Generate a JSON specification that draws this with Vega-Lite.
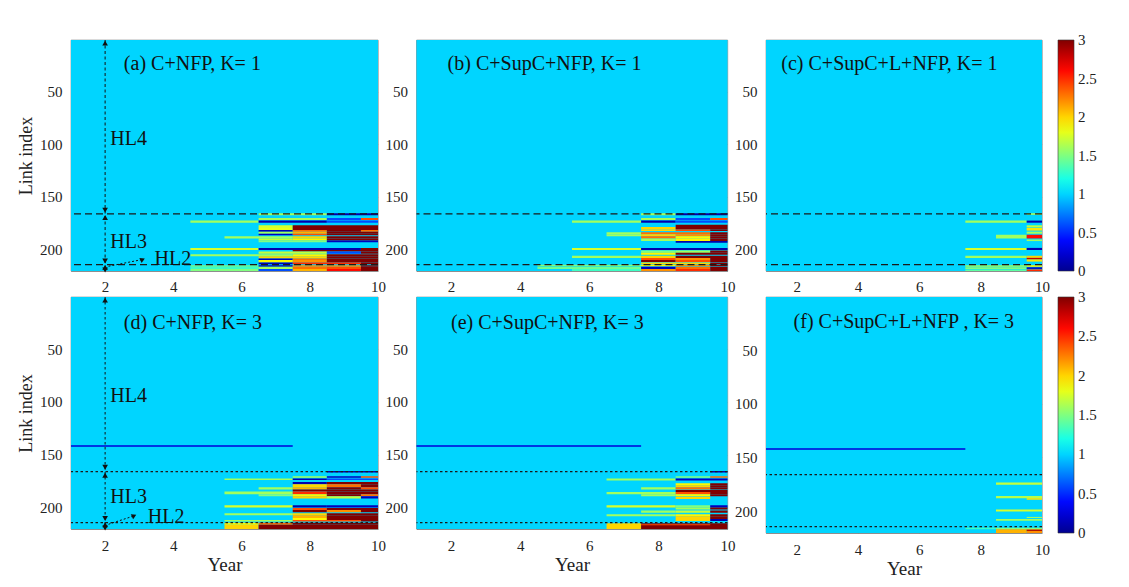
{
  "$schema": "https://vega.github.io/schema/vega-lite/v6.json",
  "padding": {"left": 17, "top": 39, "right": 5, "bottom": 5},
  "background": "#ffffff",
  "config": {
    "font": "Liberation Serif",
    "view": {"stroke": "#666666", "strokeWidth": 0.6},
    "axis": {
      "labelFont": "Liberation Serif", "labelFontSize": 15, "labelColor": "#222222",
      "titleFont": "Liberation Serif", "titleFontSize": 18, "titleFontWeight": "normal", "titleColor": "#222222",
      "ticks": false, "tickSize": 0, "domainColor": "#666666", "domainWidth": 0.6,
      "grid": true, "gridColor": "#000000", "gridOpacity": 0.07, "zindex": 1,
      "labelPadding": 9, "labelOverlap": false, "labelFlush": false
    },
    "legend": {"labelFont": "Liberation Serif", "labelFontSize": 15, "labelColor": "#222222"}
  },
  "datasets": {
    "cells": [
      {"p":"a","lo":0.5,"hi":220.5,"from":0.5,"to":10.5,"v":1},
      {"p":"a","lo":165.5,"hi":167.5,"from":6.5,"to":8.5,"v":1.6},
      {"p":"a","lo":165.5,"hi":167.5,"from":8.5,"to":10.5,"v":0.1},
      {"p":"a","lo":170,"hi":172,"from":6.5,"to":8.5,"v":1.6},
      {"p":"a","lo":170,"hi":172,"from":8.5,"to":9.5,"v":0.6},
      {"p":"a","lo":170,"hi":172,"from":9.5,"to":10.5,"v":2.4},
      {"p":"a","lo":172.5,"hi":174.5,"from":4.5,"to":6.5,"v":1.6},
      {"p":"a","lo":172.5,"hi":174.5,"from":6.5,"to":8.5,"v":0.1},
      {"p":"a","lo":172.5,"hi":174.5,"from":8.5,"to":10.5,"v":0.6},
      {"p":"a","lo":177,"hi":179.5,"from":6.5,"to":7.5,"v":1.75},
      {"p":"a","lo":177,"hi":179.5,"from":7.5,"to":10.5,"v":3},
      {"p":"a","lo":179.5,"hi":181.5,"from":6.5,"to":7.5,"v":1.8},
      {"p":"a","lo":179.5,"hi":181.5,"from":7.5,"to":10.5,"v":3},
      {"p":"a","lo":181.5,"hi":183,"from":6.5,"to":7.5,"v":0.1},
      {"p":"a","lo":181.5,"hi":183,"from":7.5,"to":8.5,"v":2.3},
      {"p":"a","lo":181.5,"hi":183,"from":8.5,"to":9.5,"v":3},
      {"p":"a","lo":181.5,"hi":183,"from":9.5,"to":10.5,"v":2.3},
      {"p":"a","lo":183,"hi":185,"from":6.5,"to":7.5,"v":1.6},
      {"p":"a","lo":183,"hi":185,"from":7.5,"to":8.5,"v":2.1},
      {"p":"a","lo":183,"hi":185,"from":8.5,"to":10.5,"v":3},
      {"p":"a","lo":185,"hi":186.5,"from":6.5,"to":7.5,"v":0.15},
      {"p":"a","lo":185,"hi":186.5,"from":7.5,"to":8.5,"v":2.4},
      {"p":"a","lo":185,"hi":186.5,"from":8.5,"to":10.5,"v":3},
      {"p":"a","lo":187.5,"hi":189.5,"from":5.5,"to":7.5,"v":1.6},
      {"p":"a","lo":187.5,"hi":189.5,"from":7.5,"to":8.5,"v":2.0},
      {"p":"a","lo":187.5,"hi":189.5,"from":8.5,"to":10.5,"v":3},
      {"p":"a","lo":189.5,"hi":191.5,"from":6.5,"to":7.5,"v":1.7},
      {"p":"a","lo":189.5,"hi":191.5,"from":7.5,"to":8.5,"v":1.9},
      {"p":"a","lo":189.5,"hi":191.5,"from":8.5,"to":10.5,"v":3},
      {"p":"a","lo":191.5,"hi":193,"from":6.5,"to":8.5,"v":1.5},
      {"p":"a","lo":191.5,"hi":193,"from":8.5,"to":10.5,"v":0.15},
      {"p":"a","lo":198.5,"hi":200.5,"from":4.5,"to":6.5,"v":1.75},
      {"p":"a","lo":198.5,"hi":200.5,"from":6.5,"to":9.5,"v":0.1},
      {"p":"a","lo":198.5,"hi":200.5,"from":9.5,"to":10.5,"v":3},
      {"p":"a","lo":200.5,"hi":202,"from":7.5,"to":10.5,"v":3},
      {"p":"a","lo":202,"hi":204,"from":6.5,"to":8.5,"v":1.7},
      {"p":"a","lo":202,"hi":204,"from":8.5,"to":9.5,"v":0.6},
      {"p":"a","lo":202,"hi":204,"from":9.5,"to":10.5,"v":3},
      {"p":"a","lo":204.5,"hi":206.5,"from":4.5,"to":7.5,"v":1.6},
      {"p":"a","lo":204.5,"hi":206.5,"from":7.5,"to":8.5,"v":1.9},
      {"p":"a","lo":204.5,"hi":206.5,"from":8.5,"to":10.5,"v":3},
      {"p":"a","lo":206.5,"hi":208.5,"from":6.5,"to":8.5,"v":2.0},
      {"p":"a","lo":206.5,"hi":208.5,"from":8.5,"to":10.5,"v":3},
      {"p":"a","lo":208.5,"hi":210,"from":6.5,"to":7.5,"v":0.15},
      {"p":"a","lo":208.5,"hi":210,"from":7.5,"to":8.5,"v":2.3},
      {"p":"a","lo":208.5,"hi":210,"from":8.5,"to":10.5,"v":3},
      {"p":"a","lo":210,"hi":212.5,"from":6.5,"to":7.5,"v":1.9},
      {"p":"a","lo":210,"hi":212.5,"from":7.5,"to":8.5,"v":2.2},
      {"p":"a","lo":210,"hi":212.5,"from":8.5,"to":10.5,"v":3},
      {"p":"a","lo":212.5,"hi":214,"from":6.5,"to":7.5,"v":0.15},
      {"p":"a","lo":212.5,"hi":214,"from":7.5,"to":9.5,"v":2.5},
      {"p":"a","lo":212.5,"hi":214,"from":9.5,"to":10.5,"v":3},
      {"p":"a","lo":215,"hi":216.5,"from":4.5,"to":6.5,"v":1.5},
      {"p":"a","lo":215,"hi":216.5,"from":6.5,"to":7.5,"v":0.15},
      {"p":"a","lo":215,"hi":216.5,"from":7.5,"to":9.5,"v":2.2},
      {"p":"a","lo":215,"hi":216.5,"from":9.5,"to":10.5,"v":3},
      {"p":"a","lo":216.5,"hi":218.5,"from":4.5,"to":6.5,"v":1.3},
      {"p":"a","lo":216.5,"hi":218.5,"from":6.5,"to":7.5,"v":1.6},
      {"p":"a","lo":216.5,"hi":218.5,"from":7.5,"to":8.5,"v":2.3},
      {"p":"a","lo":216.5,"hi":218.5,"from":8.5,"to":9.5,"v":2.4},
      {"p":"a","lo":216.5,"hi":218.5,"from":9.5,"to":10.5,"v":3},
      {"p":"a","lo":218.5,"hi":220.5,"from":4.5,"to":6.5,"v":1.5},
      {"p":"a","lo":218.5,"hi":220.5,"from":6.5,"to":7.5,"v":0.6},
      {"p":"a","lo":218.5,"hi":220.5,"from":7.5,"to":8.5,"v":2.1},
      {"p":"a","lo":218.5,"hi":220.5,"from":8.5,"to":9.5,"v":2.6},
      {"p":"a","lo":218.5,"hi":220.5,"from":9.5,"to":10.5,"v":3},

      {"p":"b","lo":0.5,"hi":220.5,"from":0.5,"to":10.5,"v":1},
      {"p":"b","lo":165.5,"hi":167.5,"from":7.5,"to":8.5,"v":1.6},
      {"p":"b","lo":165.5,"hi":167.5,"from":8.5,"to":10.5,"v":0.1},
      {"p":"b","lo":170,"hi":172,"from":7.5,"to":8.5,"v":1.6},
      {"p":"b","lo":170,"hi":172,"from":8.5,"to":9.5,"v":0.6},
      {"p":"b","lo":170,"hi":172,"from":9.5,"to":10.5,"v":2.4},
      {"p":"b","lo":172.5,"hi":174.5,"from":5.5,"to":7.5,"v":1.6},
      {"p":"b","lo":172.5,"hi":174.5,"from":7.5,"to":8.5,"v":0.1},
      {"p":"b","lo":172.5,"hi":174.5,"from":8.5,"to":10.5,"v":0.6},
      {"p":"b","lo":176.5,"hi":178.5,"from":8.5,"to":10.5,"v":3},
      {"p":"b","lo":178.5,"hi":181,"from":7.5,"to":8.5,"v":2.0},
      {"p":"b","lo":178.5,"hi":181,"from":8.5,"to":10.5,"v":3},
      {"p":"b","lo":181,"hi":182.5,"from":7.5,"to":8.5,"v":2.0},
      {"p":"b","lo":181,"hi":182.5,"from":8.5,"to":9.5,"v":2.4},
      {"p":"b","lo":181,"hi":182.5,"from":9.5,"to":10.5,"v":3},
      {"p":"b","lo":183.5,"hi":185.5,"from":6.5,"to":7.5,"v":1.6},
      {"p":"b","lo":183.5,"hi":185.5,"from":7.5,"to":9.5,"v":2.3},
      {"p":"b","lo":183.5,"hi":185.5,"from":9.5,"to":10.5,"v":3},
      {"p":"b","lo":185.5,"hi":187.5,"from":6.5,"to":7.5,"v":1.6},
      {"p":"b","lo":185.5,"hi":187.5,"from":7.5,"to":8.5,"v":2.0},
      {"p":"b","lo":185.5,"hi":187.5,"from":8.5,"to":9.5,"v":2.2},
      {"p":"b","lo":185.5,"hi":187.5,"from":9.5,"to":10.5,"v":3},
      {"p":"b","lo":187.5,"hi":189.5,"from":7.5,"to":8.5,"v":2.3},
      {"p":"b","lo":187.5,"hi":189.5,"from":8.5,"to":9.5,"v":1.9},
      {"p":"b","lo":187.5,"hi":189.5,"from":9.5,"to":10.5,"v":3},
      {"p":"b","lo":189.5,"hi":192,"from":7.5,"to":8.5,"v":1.6},
      {"p":"b","lo":189.5,"hi":192,"from":8.5,"to":9.5,"v":1.9},
      {"p":"b","lo":189.5,"hi":192,"from":9.5,"to":10.5,"v":3},
      {"p":"b","lo":192,"hi":193.5,"from":8.5,"to":10.5,"v":0.1},
      {"p":"b","lo":198.5,"hi":200.5,"from":5.5,"to":7.5,"v":1.75},
      {"p":"b","lo":198.5,"hi":200.5,"from":7.5,"to":10.5,"v":0.1},
      {"p":"b","lo":201,"hi":203,"from":7.5,"to":8.5,"v":1.5},
      {"p":"b","lo":201,"hi":203,"from":8.5,"to":9.5,"v":1.6},
      {"p":"b","lo":201,"hi":203,"from":9.5,"to":10.5,"v":3},
      {"p":"b","lo":203,"hi":205,"from":7.5,"to":8.5,"v":1.9},
      {"p":"b","lo":203,"hi":205,"from":8.5,"to":10.5,"v":3},
      {"p":"b","lo":206,"hi":208,"from":5.5,"to":7.5,"v":1.6},
      {"p":"b","lo":206,"hi":208,"from":7.5,"to":8.5,"v":2.0},
      {"p":"b","lo":206,"hi":208,"from":8.5,"to":10.5,"v":3},
      {"p":"b","lo":208,"hi":210,"from":7.5,"to":8.5,"v":2.4},
      {"p":"b","lo":208,"hi":210,"from":8.5,"to":9.5,"v":2.2},
      {"p":"b","lo":208,"hi":210,"from":9.5,"to":10.5,"v":3},
      {"p":"b","lo":210,"hi":212,"from":7.5,"to":8.5,"v":3},
      {"p":"b","lo":210,"hi":212,"from":8.5,"to":9.5,"v":2.4},
      {"p":"b","lo":210,"hi":212,"from":9.5,"to":10.5,"v":3},
      {"p":"b","lo":212.5,"hi":214,"from":7.5,"to":9.5,"v":2.0},
      {"p":"b","lo":212.5,"hi":214,"from":9.5,"to":10.5,"v":3},
      {"p":"b","lo":214.5,"hi":216,"from":4.5,"to":7.5,"v":1.5},
      {"p":"b","lo":214.5,"hi":216,"from":7.5,"to":8.5,"v":1.9},
      {"p":"b","lo":214.5,"hi":216,"from":8.5,"to":9.5,"v":2.2},
      {"p":"b","lo":214.5,"hi":216,"from":9.5,"to":10.5,"v":3},
      {"p":"b","lo":216.5,"hi":218.5,"from":4.5,"to":7.5,"v":1.45},
      {"p":"b","lo":216.5,"hi":218.5,"from":7.5,"to":8.5,"v":0.15},
      {"p":"b","lo":216.5,"hi":218.5,"from":8.5,"to":9.5,"v":2.3},
      {"p":"b","lo":216.5,"hi":218.5,"from":9.5,"to":10.5,"v":3},
      {"p":"b","lo":218.5,"hi":220.5,"from":5.5,"to":7.5,"v":1.3},
      {"p":"b","lo":218.5,"hi":220.5,"from":7.5,"to":8.5,"v":2.2},
      {"p":"b","lo":218.5,"hi":220.5,"from":8.5,"to":9.5,"v":2.5},
      {"p":"b","lo":218.5,"hi":220.5,"from":9.5,"to":10.5,"v":3},

      {"p":"c","lo":0.5,"hi":220.5,"from":0.5,"to":10.5,"v":1},
      {"p":"c","lo":165.5,"hi":167,"from":9.5,"to":10.5,"v":1.6},
      {"p":"c","lo":172.5,"hi":174.5,"from":7.5,"to":9.5,"v":1.6},
      {"p":"c","lo":172.5,"hi":174.5,"from":9.5,"to":10.5,"v":0.1},
      {"p":"c","lo":177,"hi":179,"from":9.5,"to":10.5,"v":1.7},
      {"p":"c","lo":179.5,"hi":182,"from":9.5,"to":10.5,"v":1.95},
      {"p":"c","lo":183,"hi":185,"from":9.5,"to":10.5,"v":1.6},
      {"p":"c","lo":186,"hi":189.5,"from":8.5,"to":9.5,"v":1.6},
      {"p":"c","lo":186,"hi":189.5,"from":9.5,"to":10.5,"v":2.6},
      {"p":"c","lo":190.5,"hi":192,"from":9.5,"to":10.5,"v":1.6},
      {"p":"c","lo":198.5,"hi":200.5,"from":7.5,"to":9.5,"v":1.75},
      {"p":"c","lo":198.5,"hi":200.5,"from":9.5,"to":10.5,"v":0.1},
      {"p":"c","lo":206,"hi":208,"from":7.5,"to":9.5,"v":1.6},
      {"p":"c","lo":206,"hi":208,"from":9.5,"to":10.5,"v":2.0},
      {"p":"c","lo":208,"hi":209.5,"from":9.5,"to":10.5,"v":2.8},
      {"p":"c","lo":209.5,"hi":211.5,"from":9.5,"to":10.5,"v":1.95},
      {"p":"c","lo":215,"hi":216.5,"from":7.5,"to":9.5,"v":1.6},
      {"p":"c","lo":215,"hi":216.5,"from":9.5,"to":10.5,"v":1.9},
      {"p":"c","lo":217,"hi":218.5,"from":7.5,"to":9.5,"v":1.5},
      {"p":"c","lo":217,"hi":218.5,"from":9.5,"to":10.5,"v":0.15},
      {"p":"c","lo":219,"hi":220.5,"from":7.5,"to":9.5,"v":1.4},
      {"p":"c","lo":219,"hi":220.5,"from":9.5,"to":10.5,"v":2.5},

      {"p":"d","lo":0.5,"hi":220.5,"from":0.5,"to":10.5,"v":1},
      {"p":"d","lo":141,"hi":142.5,"from":0.5,"to":7.5,"v":0.25},
      {"p":"d","lo":165.5,"hi":167,"from":8.5,"to":10.5,"v":0.1},
      {"p":"d","lo":170.5,"hi":172,"from":7.5,"to":8.5,"v":1.6},
      {"p":"d","lo":170.5,"hi":172,"from":8.5,"to":9.5,"v":0.15},
      {"p":"d","lo":170.5,"hi":172,"from":9.5,"to":10.5,"v":2.4},
      {"p":"d","lo":172.5,"hi":174,"from":5.5,"to":7.5,"v":1.6},
      {"p":"d","lo":172.5,"hi":174,"from":7.5,"to":8.5,"v":0.1},
      {"p":"d","lo":172.5,"hi":174,"from":8.5,"to":10.5,"v":0.6},
      {"p":"d","lo":176,"hi":178,"from":7.5,"to":8.5,"v":0.1},
      {"p":"d","lo":176,"hi":178,"from":8.5,"to":10.5,"v":3},
      {"p":"d","lo":178,"hi":181,"from":7.5,"to":8.5,"v":2.0},
      {"p":"d","lo":178,"hi":181,"from":8.5,"to":9.5,"v":2.3},
      {"p":"d","lo":178,"hi":181,"from":9.5,"to":10.5,"v":3},
      {"p":"d","lo":181,"hi":183,"from":6.5,"to":7.5,"v":1.6},
      {"p":"d","lo":181,"hi":183,"from":7.5,"to":8.5,"v":2.1},
      {"p":"d","lo":181,"hi":183,"from":8.5,"to":9.5,"v":3},
      {"p":"d","lo":181,"hi":183,"from":9.5,"to":10.5,"v":2.4},
      {"p":"d","lo":183,"hi":185,"from":7.5,"to":10.5,"v":3},
      {"p":"d","lo":185,"hi":187.5,"from":5.5,"to":7.5,"v":1.6},
      {"p":"d","lo":185,"hi":187.5,"from":7.5,"to":8.5,"v":2.5},
      {"p":"d","lo":185,"hi":187.5,"from":8.5,"to":10.5,"v":3},
      {"p":"d","lo":187.5,"hi":189.5,"from":6.5,"to":7.5,"v":1.5},
      {"p":"d","lo":187.5,"hi":189.5,"from":7.5,"to":8.5,"v":1.9},
      {"p":"d","lo":187.5,"hi":189.5,"from":8.5,"to":9.5,"v":3},
      {"p":"d","lo":187.5,"hi":189.5,"from":9.5,"to":10.5,"v":2.3},
      {"p":"d","lo":189.5,"hi":191.5,"from":7.5,"to":8.5,"v":2.0},
      {"p":"d","lo":189.5,"hi":191.5,"from":8.5,"to":9.5,"v":1.7},
      {"p":"d","lo":189.5,"hi":191.5,"from":9.5,"to":10.5,"v":0.15},
      {"p":"d","lo":198,"hi":200,"from":5.5,"to":7.5,"v":1.75},
      {"p":"d","lo":198,"hi":200,"from":7.5,"to":8.5,"v":0.1},
      {"p":"d","lo":198,"hi":200,"from":8.5,"to":10.5,"v":0.15},
      {"p":"d","lo":200.5,"hi":202.5,"from":7.5,"to":8.5,"v":2.4},
      {"p":"d","lo":200.5,"hi":202.5,"from":8.5,"to":10.5,"v":3},
      {"p":"d","lo":202.5,"hi":204.5,"from":7.5,"to":8.5,"v":3},
      {"p":"d","lo":202.5,"hi":204.5,"from":8.5,"to":9.5,"v":2.2},
      {"p":"d","lo":202.5,"hi":204.5,"from":9.5,"to":10.5,"v":3},
      {"p":"d","lo":205.5,"hi":207.5,"from":5.5,"to":7.5,"v":1.6},
      {"p":"d","lo":205.5,"hi":207.5,"from":7.5,"to":8.5,"v":2.0},
      {"p":"d","lo":205.5,"hi":207.5,"from":8.5,"to":10.5,"v":3},
      {"p":"d","lo":207.5,"hi":210,"from":7.5,"to":8.5,"v":2.1},
      {"p":"d","lo":207.5,"hi":210,"from":8.5,"to":10.5,"v":3},
      {"p":"d","lo":210,"hi":212,"from":7.5,"to":8.5,"v":1.9},
      {"p":"d","lo":210,"hi":212,"from":8.5,"to":10.5,"v":3},
      {"p":"d","lo":212,"hi":213.5,"from":5.5,"to":7.5,"v":1.6},
      {"p":"d","lo":212,"hi":213.5,"from":7.5,"to":9.5,"v":2.4},
      {"p":"d","lo":212,"hi":213.5,"from":9.5,"to":10.5,"v":3},
      {"p":"d","lo":214.5,"hi":216.5,"from":5.5,"to":6.5,"v":1.9},
      {"p":"d","lo":214.5,"hi":216.5,"from":6.5,"to":7.5,"v":2.3},
      {"p":"d","lo":214.5,"hi":216.5,"from":7.5,"to":10.5,"v":3},
      {"p":"d","lo":216.5,"hi":220.5,"from":5.5,"to":6.5,"v":2.0},
      {"p":"d","lo":216.5,"hi":220.5,"from":6.5,"to":10.5,"v":3},

      {"p":"e","lo":0.5,"hi":220.5,"from":0.5,"to":10.5,"v":1},
      {"p":"e","lo":141,"hi":142.5,"from":0.5,"to":7.5,"v":0.25},
      {"p":"e","lo":165.5,"hi":167,"from":9.5,"to":10.5,"v":0.1},
      {"p":"e","lo":170.5,"hi":172,"from":8.5,"to":9.5,"v":1.5},
      {"p":"e","lo":170.5,"hi":172,"from":9.5,"to":10.5,"v":2.3},
      {"p":"e","lo":172.5,"hi":174.5,"from":6.5,"to":8.5,"v":1.6},
      {"p":"e","lo":172.5,"hi":174.5,"from":8.5,"to":10.5,"v":0.15},
      {"p":"e","lo":177,"hi":179,"from":8.5,"to":9.5,"v":1.9},
      {"p":"e","lo":177,"hi":179,"from":9.5,"to":10.5,"v":3},
      {"p":"e","lo":179,"hi":181,"from":8.5,"to":9.5,"v":2.0},
      {"p":"e","lo":179,"hi":181,"from":9.5,"to":10.5,"v":3},
      {"p":"e","lo":181,"hi":183,"from":7.5,"to":8.5,"v":1.6},
      {"p":"e","lo":181,"hi":183,"from":8.5,"to":9.5,"v":2.3},
      {"p":"e","lo":181,"hi":183,"from":9.5,"to":10.5,"v":3},
      {"p":"e","lo":183.5,"hi":185.5,"from":8.5,"to":10.5,"v":3},
      {"p":"e","lo":185.5,"hi":187.5,"from":6.5,"to":8.5,"v":1.6},
      {"p":"e","lo":185.5,"hi":187.5,"from":8.5,"to":9.5,"v":2.4},
      {"p":"e","lo":185.5,"hi":187.5,"from":9.5,"to":10.5,"v":3},
      {"p":"e","lo":187.5,"hi":189.5,"from":7.5,"to":8.5,"v":1.6},
      {"p":"e","lo":187.5,"hi":189.5,"from":8.5,"to":9.5,"v":1.9},
      {"p":"e","lo":187.5,"hi":189.5,"from":9.5,"to":10.5,"v":3},
      {"p":"e","lo":190,"hi":192,"from":8.5,"to":9.5,"v":2.0},
      {"p":"e","lo":198,"hi":200,"from":6.5,"to":8.5,"v":1.75},
      {"p":"e","lo":198,"hi":200,"from":8.5,"to":9.5,"v":1.5},
      {"p":"e","lo":198,"hi":200,"from":9.5,"to":10.5,"v":0.15},
      {"p":"e","lo":200,"hi":202,"from":8.5,"to":9.5,"v":1.6},
      {"p":"e","lo":200,"hi":202,"from":9.5,"to":10.5,"v":3},
      {"p":"e","lo":203,"hi":205,"from":7.5,"to":8.5,"v":1.6},
      {"p":"e","lo":203,"hi":205,"from":8.5,"to":9.5,"v":1.7},
      {"p":"e","lo":203,"hi":205,"from":9.5,"to":10.5,"v":3},
      {"p":"e","lo":206.5,"hi":208.5,"from":6.5,"to":8.5,"v":1.6},
      {"p":"e","lo":206.5,"hi":208.5,"from":8.5,"to":9.5,"v":1.9},
      {"p":"e","lo":206.5,"hi":208.5,"from":9.5,"to":10.5,"v":3},
      {"p":"e","lo":208.5,"hi":211,"from":8.5,"to":9.5,"v":2.0},
      {"p":"e","lo":208.5,"hi":211,"from":9.5,"to":10.5,"v":3},
      {"p":"e","lo":211,"hi":213,"from":8.5,"to":9.5,"v":2.0},
      {"p":"e","lo":211,"hi":213,"from":9.5,"to":10.5,"v":0.1},
      {"p":"e","lo":215,"hi":220.5,"from":6.5,"to":7.5,"v":2.0},
      {"p":"e","lo":215,"hi":220.5,"from":7.5,"to":10.5,"v":3},
      {"p":"e","lo":216,"hi":217,"from":7.5,"to":9.5,"v":2.4},

      {"p":"f","lo":0.5,"hi":220.5,"from":0.5,"to":10.5,"v":1},
      {"p":"f","lo":141.5,"hi":143,"from":0.5,"to":7.5,"v":0.25},
      {"p":"f","lo":173.5,"hi":175.5,"from":8.5,"to":10.5,"v":1.7},
      {"p":"f","lo":186,"hi":188,"from":8.5,"to":10.5,"v":1.65},
      {"p":"f","lo":188,"hi":189.5,"from":9.5,"to":10.5,"v":1.95},
      {"p":"f","lo":198.5,"hi":200.5,"from":8.5,"to":10.5,"v":1.75},
      {"p":"f","lo":205.5,"hi":206.5,"from":9.5,"to":10.5,"v":1.6},
      {"p":"f","lo":207.5,"hi":209,"from":8.5,"to":10.5,"v":1.6},
      {"p":"f","lo":215.5,"hi":217,"from":7.5,"to":8.5,"v":1.3},
      {"p":"f","lo":215.5,"hi":217,"from":8.5,"to":10.5,"v":1.5},
      {"p":"f","lo":217,"hi":220.5,"from":8.5,"to":9.5,"v":2.1},
      {"p":"f","lo":217,"hi":220.5,"from":9.5,"to":10.5,"v":2.2},
      {"p":"f","lo":217.5,"hi":218.5,"from":9.5,"to":10.5,"v":2.9}
    ],
    "hl": [
      {"p":"a","link":166},{"p":"a","link":214.5},
      {"p":"b","link":166},{"p":"b","link":214.5},
      {"p":"c","link":166},{"p":"c","link":214.5},
      {"p":"d","link":166},{"p":"d","link":214.5},
      {"p":"e","link":166},{"p":"e","link":214.5},
      {"p":"f","link":166},{"p":"f","link":214.5}
    ],
    "vl": [
      {"p":"a","year":2,"lo":0.5,"hi":220.5},
      {"p":"d","year":2,"lo":0.5,"hi":220.5}
    ],
    "arrows": [
      {"p":"a","year":2,"link":3.5,"dir":"up"},
      {"p":"a","year":2,"link":162.5,"dir":"down"},
      {"p":"a","year":2,"link":169.5,"dir":"up"},
      {"p":"a","year":2,"link":211,"dir":"down"},
      {"p":"a","year":2,"link":217,"dir":"up"},
      {"p":"a","year":2,"link":219.5,"dir":"down"},
      {"p":"d","year":2,"link":3.5,"dir":"up"},
      {"p":"d","year":2,"link":162,"dir":"down"},
      {"p":"d","year":2,"link":169.5,"dir":"up"},
      {"p":"d","year":2,"link":210.5,"dir":"down"},
      {"p":"d","year":2,"link":216.5,"dir":"up"},
      {"p":"d","year":2,"link":219.5,"dir":"down"}
    ],
    "ptr": [
      {"p":"a","year":2.1,"link":216,"year2":3.1,"link2":209.5},
      {"p":"d","year":2.1,"link":216,"year2":2.85,"link2":208}
    ],
    "hltext": [
      {"p":"a","year":2.15,"link":95,"label":"HL4"},
      {"p":"a","year":2.15,"link":192.5,"label":"HL3"},
      {"p":"a","year":3.45,"link":209,"label":"HL2"},
      {"p":"d","year":2.15,"link":94,"label":"HL4"},
      {"p":"d","year":2.15,"link":190,"label":"HL3"},
      {"p":"d","year":3.25,"link":209.5,"label":"HL2"}
    ],
    "titles": [
      {"p":"a","year":2.55,"link":23,"label":"(a) C+NFP, K= 1"},
      {"p":"b","year":1.9,"link":23,"label":"(b) C+SupC+NFP, K= 1"},
      {"p":"c","year":1.5,"link":23,"label":"(c) C+SupC+L+NFP, K= 1"},
      {"p":"d","year":2.55,"link":25,"label":"(d) C+NFP, K= 3"},
      {"p":"e","year":2.0,"link":25,"label":"(e) C+SupC+NFP, K= 3"},
      {"p":"f","year":1.9,"link":24,"label":"(f) C+SupC+L+NFP , K= 3"}
    ]
  },
  "columns": 3,
  "bounds": "flush",
  "align": "none",
  "spacing": {"row": 26, "column": 38.5},
  "resolve": {"scale": {"color": "independent"}},
  "concat": [
    {
      "width": 307, "height": 231,
      "layer": [
        {"data": {"name": "cells"}, "transform": [{"filter": "datum.p === 'a'"}],
         "mark": {"type": "rect", "clip": true},
         "encoding": {
           "x": {"field": "from", "type": "quantitative", "scale": {"domain": [1, 10], "nice": false, "zero": false}, "axis": {"values": [2,4,6,8,10], "title": null, "labelPadding": 8}},
           "x2": {"field": "to"},
           "y": {"field": "lo", "type": "quantitative", "scale": {"domain": [0.5, 220.5], "reverse": true, "nice": false, "zero": false}, "axis": {"values": [50,100,150,200], "title": "Link index", "titlePadding": 4}},
           "y2": {"field": "hi"},
           "color": {"field": "v", "type": "quantitative", "scale": {"domain": [0, 0.375, 1.125, 1.875, 2.625, 3], "range": ["#00008f","#0000ff","#00ffff","#ffff00","#ff0000","#800000"], "interpolate": "rgb"}, "legend": null}
         }},
        {"data": {"name": "hl"}, "transform": [{"filter": "datum.p === 'a'"}],
         "mark": {"type": "rule", "strokeDash": [7, 4], "color": "#1a1a1a", "strokeWidth": 1.3},
         "encoding": {"y": {"field": "link", "type": "quantitative"}}},
        {"data": {"name": "vl"}, "transform": [{"filter": "datum.p === 'a'"}],
         "mark": {"type": "rule", "strokeDash": [3, 2.5], "color": "#111111", "strokeWidth": 1},
         "encoding": {"x": {"field": "year", "type": "quantitative"}, "y": {"field": "lo", "type": "quantitative"}, "y2": {"field": "hi"}}},
        {"data": {"name": "arrows"}, "transform": [{"filter": "datum.p === 'a'"}],
         "mark": {"type": "point", "filled": true, "color": "#111111", "size": 32, "opacity": 1},
         "encoding": {"x": {"field": "year", "type": "quantitative"}, "y": {"field": "link", "type": "quantitative"},
           "shape": {"field": "dir", "type": "nominal", "scale": {"domain": ["up", "down"], "range": ["triangle-up", "triangle-down"]}, "legend": null}}},
        {"data": {"name": "ptr"}, "transform": [{"filter": "datum.p === 'a'"}],
         "mark": {"type": "rule", "strokeDash": [2, 2], "color": "#111111", "strokeWidth": 1},
         "encoding": {"x": {"field": "year", "type": "quantitative"}, "y": {"field": "link", "type": "quantitative"}, "x2": {"field": "year2"}, "y2": {"field": "link2"}}},
        {"data": {"name": "ptr"}, "transform": [{"filter": "datum.p === 'a'"}],
         "mark": {"type": "point", "shape": "triangle-right", "angle": -25, "filled": true, "color": "#111111", "size": 30, "opacity": 1},
         "encoding": {"x": {"field": "year2", "type": "quantitative"}, "y": {"field": "link2", "type": "quantitative"}}},
        {"data": {"name": "hltext"}, "transform": [{"filter": "datum.p === 'a'"}],
         "mark": {"type": "text", "align": "left", "baseline": "middle", "fontSize": 20, "color": "#111111"},
         "encoding": {"x": {"field": "year", "type": "quantitative"}, "y": {"field": "link", "type": "quantitative"}, "text": {"field": "label"}}},
        {"data": {"name": "titles"}, "transform": [{"filter": "datum.p === 'a'"}],
         "mark": {"type": "text", "align": "left", "baseline": "middle", "fontSize": 20, "color": "#111111"},
         "encoding": {"x": {"field": "year", "type": "quantitative"}, "y": {"field": "link", "type": "quantitative"}, "text": {"field": "label"}}}
      ]
    },
    {
      "width": 311, "height": 231,
      "layer": [
        {"data": {"name": "cells"}, "transform": [{"filter": "datum.p === 'b'"}],
         "mark": {"type": "rect", "clip": true},
         "encoding": {
           "x": {"field": "from", "type": "quantitative", "scale": {"domain": [1, 10], "nice": false, "zero": false}, "axis": {"values": [2,4,6,8,10], "title": null, "labelPadding": 8}},
           "x2": {"field": "to"},
           "y": {"field": "lo", "type": "quantitative", "scale": {"domain": [0.5, 220.5], "reverse": true, "nice": false, "zero": false}, "axis": {"values": [50,100,150,200], "title": null}},
           "y2": {"field": "hi"},
           "color": {"field": "v", "type": "quantitative", "scale": {"domain": [0, 0.375, 1.125, 1.875, 2.625, 3], "range": ["#00008f","#0000ff","#00ffff","#ffff00","#ff0000","#800000"], "interpolate": "rgb"}, "legend": null}
         }},
        {"data": {"name": "hl"}, "transform": [{"filter": "datum.p === 'b'"}],
         "mark": {"type": "rule", "strokeDash": [7, 4], "color": "#1a1a1a", "strokeWidth": 1.3},
         "encoding": {"y": {"field": "link", "type": "quantitative"}}},
        {"data": {"name": "titles"}, "transform": [{"filter": "datum.p === 'b'"}],
         "mark": {"type": "text", "align": "left", "baseline": "middle", "fontSize": 20, "color": "#111111"},
         "encoding": {"x": {"field": "year", "type": "quantitative"}, "y": {"field": "link", "type": "quantitative"}, "text": {"field": "label"}}}
      ]
    },
    {
      "width": 276, "height": 231,
      "layer": [
        {"data": {"name": "cells"}, "transform": [{"filter": "datum.p === 'c'"}],
         "mark": {"type": "rect", "clip": true},
         "encoding": {
           "x": {"field": "from", "type": "quantitative", "scale": {"domain": [1, 10], "nice": false, "zero": false}, "axis": {"values": [2,4,6,8,10], "title": null, "labelPadding": 8}},
           "x2": {"field": "to"},
           "y": {"field": "lo", "type": "quantitative", "scale": {"domain": [0.5, 220.5], "reverse": true, "nice": false, "zero": false}, "axis": {"values": [50,100,150,200], "title": null}},
           "y2": {"field": "hi"},
           "color": {"field": "v", "type": "quantitative", "scale": {"domain": [0, 0.375, 1.125, 1.875, 2.625, 3], "range": ["#00008f","#0000ff","#00ffff","#ffff00","#ff0000","#800000"], "interpolate": "rgb"},
             "legend": {"orient": "right", "offset": 16, "padding": 0, "title": null, "gradientLength": 231, "gradientThickness": 16, "values": [0, 0.5, 1, 1.5, 2, 2.5, 3], "labelExpr": "'' + datum.value", "labelOffset": 4, "labelOverlap": false, "gradientStrokeColor": "#333333", "gradientStrokeWidth": 0.6,
               "encode": {"labels": {"update": {"baseline": {"value": "middle"}}}}}}
         }},
        {"data": {"name": "hl"}, "transform": [{"filter": "datum.p === 'c'"}],
         "mark": {"type": "rule", "strokeDash": [7, 4], "color": "#1a1a1a", "strokeWidth": 1.3},
         "encoding": {"y": {"field": "link", "type": "quantitative"}}},
        {"data": {"name": "titles"}, "transform": [{"filter": "datum.p === 'c'"}],
         "mark": {"type": "text", "align": "left", "baseline": "middle", "fontSize": 20, "color": "#111111"},
         "encoding": {"x": {"field": "year", "type": "quantitative"}, "y": {"field": "link", "type": "quantitative"}, "text": {"field": "label"}}}
      ]
    },
    {
      "width": 307, "height": 232,
      "layer": [
        {"data": {"name": "cells"}, "transform": [{"filter": "datum.p === 'd'"}],
         "mark": {"type": "rect", "clip": true},
         "encoding": {
           "x": {"field": "from", "type": "quantitative", "scale": {"domain": [1, 10], "nice": false, "zero": false}, "axis": {"values": [2,4,6,8,10], "title": "Year", "titleFontSize": 19, "titlePadding": 2}},
           "x2": {"field": "to"},
           "y": {"field": "lo", "type": "quantitative", "scale": {"domain": [0.5, 220.5], "reverse": true, "nice": false, "zero": false}, "axis": {"values": [50,100,150,200], "title": "Link index", "titlePadding": 4}},
           "y2": {"field": "hi"},
           "color": {"field": "v", "type": "quantitative", "scale": {"domain": [0, 0.375, 1.125, 1.875, 2.625, 3], "range": ["#00008f","#0000ff","#00ffff","#ffff00","#ff0000","#800000"], "interpolate": "rgb"}, "legend": null}
         }},
        {"data": {"name": "hl"}, "transform": [{"filter": "datum.p === 'd'"}],
         "mark": {"type": "rule", "strokeDash": [2.5, 2.5], "color": "#1a1a1a", "strokeWidth": 1.2},
         "encoding": {"y": {"field": "link", "type": "quantitative"}}},
        {"data": {"name": "vl"}, "transform": [{"filter": "datum.p === 'd'"}],
         "mark": {"type": "rule", "strokeDash": [2.5, 2.5], "color": "#111111", "strokeWidth": 1},
         "encoding": {"x": {"field": "year", "type": "quantitative"}, "y": {"field": "lo", "type": "quantitative"}, "y2": {"field": "hi"}}},
        {"data": {"name": "arrows"}, "transform": [{"filter": "datum.p === 'd'"}],
         "mark": {"type": "point", "filled": true, "color": "#111111", "size": 32, "opacity": 1},
         "encoding": {"x": {"field": "year", "type": "quantitative"}, "y": {"field": "link", "type": "quantitative"},
           "shape": {"field": "dir", "type": "nominal", "scale": {"domain": ["up", "down"], "range": ["triangle-up", "triangle-down"]}, "legend": null}}},
        {"data": {"name": "ptr"}, "transform": [{"filter": "datum.p === 'd'"}],
         "mark": {"type": "rule", "strokeDash": [2, 2], "color": "#111111", "strokeWidth": 1},
         "encoding": {"x": {"field": "year", "type": "quantitative"}, "y": {"field": "link", "type": "quantitative"}, "x2": {"field": "year2"}, "y2": {"field": "link2"}}},
        {"data": {"name": "ptr"}, "transform": [{"filter": "datum.p === 'd'"}],
         "mark": {"type": "point", "shape": "triangle-right", "angle": -25, "filled": true, "color": "#111111", "size": 30, "opacity": 1},
         "encoding": {"x": {"field": "year2", "type": "quantitative"}, "y": {"field": "link2", "type": "quantitative"}}},
        {"data": {"name": "hltext"}, "transform": [{"filter": "datum.p === 'd'"}],
         "mark": {"type": "text", "align": "left", "baseline": "middle", "fontSize": 20, "color": "#111111"},
         "encoding": {"x": {"field": "year", "type": "quantitative"}, "y": {"field": "link", "type": "quantitative"}, "text": {"field": "label"}}},
        {"data": {"name": "titles"}, "transform": [{"filter": "datum.p === 'd'"}],
         "mark": {"type": "text", "align": "left", "baseline": "middle", "fontSize": 20, "color": "#111111"},
         "encoding": {"x": {"field": "year", "type": "quantitative"}, "y": {"field": "link", "type": "quantitative"}, "text": {"field": "label"}}}
      ]
    },
    {
      "width": 311, "height": 232,
      "layer": [
        {"data": {"name": "cells"}, "transform": [{"filter": "datum.p === 'e'"}],
         "mark": {"type": "rect", "clip": true},
         "encoding": {
           "x": {"field": "from", "type": "quantitative", "scale": {"domain": [1, 10], "nice": false, "zero": false}, "axis": {"values": [2,4,6,8,10], "title": "Year", "titleFontSize": 19, "titlePadding": 2}},
           "x2": {"field": "to"},
           "y": {"field": "lo", "type": "quantitative", "scale": {"domain": [0.5, 220.5], "reverse": true, "nice": false, "zero": false}, "axis": {"values": [50,100,150,200], "title": null}},
           "y2": {"field": "hi"},
           "color": {"field": "v", "type": "quantitative", "scale": {"domain": [0, 0.375, 1.125, 1.875, 2.625, 3], "range": ["#00008f","#0000ff","#00ffff","#ffff00","#ff0000","#800000"], "interpolate": "rgb"}, "legend": null}
         }},
        {"data": {"name": "hl"}, "transform": [{"filter": "datum.p === 'e'"}],
         "mark": {"type": "rule", "strokeDash": [2.5, 2.5], "color": "#1a1a1a", "strokeWidth": 1.2},
         "encoding": {"y": {"field": "link", "type": "quantitative"}}},
        {"data": {"name": "titles"}, "transform": [{"filter": "datum.p === 'e'"}],
         "mark": {"type": "text", "align": "left", "baseline": "middle", "fontSize": 20, "color": "#111111"},
         "encoding": {"x": {"field": "year", "type": "quantitative"}, "y": {"field": "link", "type": "quantitative"}, "text": {"field": "label"}}}
      ]
    },
    {
      "width": 276, "height": 236,
      "layer": [
        {"data": {"name": "cells"}, "transform": [{"filter": "datum.p === 'f'"}],
         "mark": {"type": "rect", "clip": true},
         "encoding": {
           "x": {"field": "from", "type": "quantitative", "scale": {"domain": [1, 10], "nice": false, "zero": false}, "axis": {"values": [2,4,6,8,10], "title": "Year", "titleFontSize": 19, "titlePadding": 2}},
           "x2": {"field": "to"},
           "y": {"field": "lo", "type": "quantitative", "scale": {"domain": [0.5, 220.5], "reverse": true, "nice": false, "zero": false}, "axis": {"values": [50,100,150,200], "title": null}},
           "y2": {"field": "hi"},
           "color": {"field": "v", "type": "quantitative", "scale": {"domain": [0, 0.375, 1.125, 1.875, 2.625, 3], "range": ["#00008f","#0000ff","#00ffff","#ffff00","#ff0000","#800000"], "interpolate": "rgb"},
             "legend": {"orient": "right", "offset": 16, "padding": 0, "title": null, "gradientLength": 236, "gradientThickness": 16, "values": [0, 0.5, 1, 1.5, 2, 2.5, 3], "labelExpr": "'' + datum.value", "labelOffset": 4, "labelOverlap": false, "gradientStrokeColor": "#333333", "gradientStrokeWidth": 0.6,
               "encode": {"labels": {"update": {"baseline": {"value": "middle"}}}}}}
         }},
        {"data": {"name": "hl"}, "transform": [{"filter": "datum.p === 'f'"}],
         "mark": {"type": "rule", "strokeDash": [2.5, 2.5], "color": "#1a1a1a", "strokeWidth": 1.2},
         "encoding": {"y": {"field": "link", "type": "quantitative"}}},
        {"data": {"name": "titles"}, "transform": [{"filter": "datum.p === 'f'"}],
         "mark": {"type": "text", "align": "left", "baseline": "middle", "fontSize": 20, "color": "#111111"},
         "encoding": {"x": {"field": "year", "type": "quantitative"}, "y": {"field": "link", "type": "quantitative"}, "text": {"field": "label"}}}
      ]
    }
  ]
}
